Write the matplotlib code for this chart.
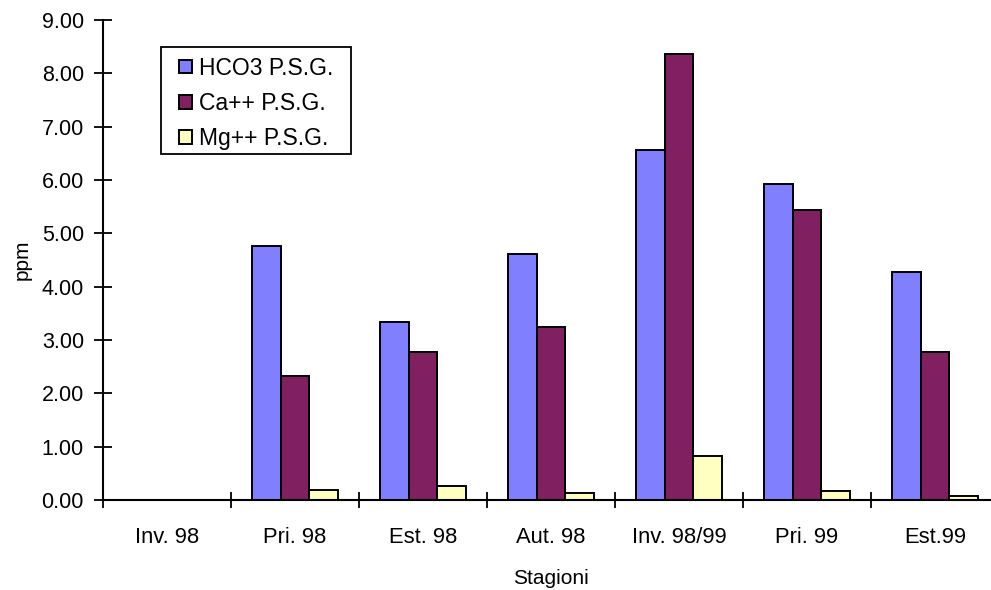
import numpy as np
import matplotlib
matplotlib.use("Agg")
import matplotlib.pyplot as plt
from matplotlib.patches import Rectangle
from matplotlib.ticker import FixedLocator, FormatStrFormatter

plt.rcParams['font.family'] = ['Liberation Sans', 'DejaVu Sans']

# Seasons sampled
stagioni = ["Inv. 98", "Pri. 98", "Est. 98", "Aut. 98", "Inv. 98/99", "Pri. 99", "Est.99"]

# Concentrations (ppm) per season; winter 98 has no measurement
hco3 = [np.nan, 4.76, 3.33, 4.61, 6.57, 5.93, 4.28]
ca = [np.nan, 2.32, 2.77, 3.25, 8.37, 5.44, 2.77]
mg = [np.nan, 0.18, 0.26, 0.14, 0.82, 0.17, 0.07]

series_labels = ["HCO3 P.S.G.", "Ca++ P.S.G.", "Mg++ P.S.G."]
series_colors = ["#8080FF", "#802060", "#FFFFC0"]

W, H = 991, 590
fig = plt.figure(figsize=(W / 100, H / 100), dpi=100)

# plot area in pixel coordinates (left, top, right, bottom)
left, top, right, bottom = 103, 20, 999, 500
ax = fig.add_axes([left / W, 1 - bottom / H, (right - left) / W, (bottom - top) / H])

x = np.arange(len(stagioni))
bw = 1 / 4.5
handles = []
for i, (vals, lab, col) in enumerate(zip([hco3, ca, mg], series_labels, series_colors)):
    b = ax.bar(x + (i - 1) * bw, vals, width=bw, color=col, edgecolor="black",
               linewidth=1.4, label=lab, zorder=3)
    handles.append(b)

ax.set_xlim(-0.5, len(stagioni) - 0.5)
ax.set_ylim(0, 9)

ax.spines['top'].set_visible(False)
ax.spines['right'].set_visible(False)
for s in ('left', 'bottom'):
    ax.spines[s].set_linewidth(1.5)
    ax.spines[s].set_zorder(4)

ax.set_yticks(np.arange(0, 9.01, 1.0))
ax.yaxis.set_major_formatter(FormatStrFormatter('%.2f'))
ax.tick_params(axis='y', direction='inout', length=13, width=1.3, pad=7.2, labelsize=15.5)

ax.set_xticks(x)
ax.set_xticklabels(stagioni)
ax.tick_params(axis='x', which='major', length=0, pad=19.5, labelsize=15.8)
ax.xaxis.set_minor_locator(FixedLocator(np.arange(-0.5, len(stagioni) + 0.5, 1.0)))
ax.tick_params(axis='x', which='minor', direction='inout', length=11, width=1.3)

ax.set_xlabel("Stagioni", fontsize=15, labelpad=15)
ax.set_ylabel("ppm", fontsize=15, labelpad=7)

# legend with a plain rectangular frame
lx0, ly0, lx1, ly1 = 161, 47, 351, 154
fig.patches.append(Rectangle((lx0 / W, 1 - ly1 / H), (lx1 - lx0) / W, (ly1 - ly0) / H,
                             transform=fig.transFigure, fill=False, edgecolor="black",
                             linewidth=1.3, zorder=5))
leg = ax.legend(handles=handles, loc='upper left',
                bbox_to_anchor=((lx0 + 13) / W, 1 - (ly0 + 5) / H),
                bbox_transform=fig.transFigure, frameon=False, fontsize=16.5,
                handlelength=0.6, handleheight=0.55, handletextpad=0.3,
                labelspacing=0.54, borderpad=0.2, borderaxespad=0)

fig.savefig("out.png", dpi=100)
